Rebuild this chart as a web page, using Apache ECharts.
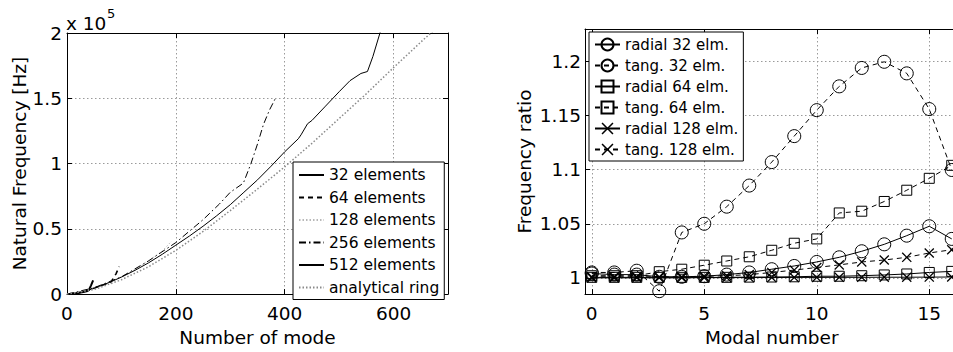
<!DOCTYPE html>
<html><head><meta charset="utf-8">
<script src="https://cdn.jsdelivr.net/npm/echarts@6/dist/echarts.min.js"></script>
<style>
html,body{margin:0;padding:0;overflow:hidden;background:#fff;width:953px;height:352px}
#c{width:970px;height:352px}
</style></head>
<body><div id="c"></div>
<script>
// ---------- Left chart data (mode number, frequency in Hz) ----------
const el32Modes = [0, 10, 20, 30, 36, 40, 44, 48];
const el32Freq  = [0, 200, 800, 1600, 2100, 3000, 6500, 10500];
const el64Modes = [0, 20, 40, 60, 70, 80, 85, 90, 96];
const el64Freq  = [0, 800, 3000, 6200, 7600, 8900, 12000, 15500, 21000];
const el128Modes = [0, 25, 50, 75, 100, 125, 150, 175, 192];
const el128Freq  = [0, 1500, 4800, 8800, 13300, 18800, 25500, 33000, 40500];
const el256Modes = [0, 50, 100, 150, 200, 250, 280, 300, 324, 338, 350, 361, 372, 383];
const el256Freq  = [0, 4900, 13200, 25500, 39500, 57000, 69000, 78000, 85000, 100000, 115000, 130000, 141000, 150000];
const el512Modes = [0, 10, 20, 30, 40, 60, 80, 100, 125, 150, 175, 200, 225, 250, 275, 300, 325, 350, 375, 400, 425, 430, 442, 450, 475, 500, 520, 540, 552, 562, 575, 580];
const el512Freq  = [0, 200, 800, 1600, 3000, 6000, 9300, 13000, 18200, 24000, 30500, 37500, 44500, 52000, 60000, 68500, 78000, 87500, 98000, 109000, 119000, 122000, 130500, 133000, 144000, 155000, 163500, 169000, 170500, 182000, 200000, 207000];
const ringModes = [0, 50, 100, 150, 200, 250, 300, 350, 400, 450, 500, 550, 600, 650, 700];
const ringFreq  = [0, 3500, 11000, 21000, 33500, 48000, 64000, 80500, 97500, 115500, 134500, 153500, 173500, 193000, 212000];
const leftXTicks = [0, 200, 400, 600];
const leftYTicks = [0, 50000, 100000, 150000, 200000];

// ---------- Right chart data (modal number, frequency ratio) ----------
const modalNumbers = [0, 1, 2, 3, 4, 5, 6, 7, 8, 9, 10, 11, 12, 13, 14, 15, 16];
const radial32  = [1.004, 1.003, 1.003, 1.001, 1.001, 1.0015, 1.003, 1.005, 1.008, 1.011, 1.0147, 1.019, 1.0246, 1.031, 1.039, 1.0477, 1.036];
const tang32    = [1.005, 1.005, 1.0066, 0.9877, 1.042, 1.050, 1.0658, 1.0853, 1.107, 1.131, 1.155, 1.177, 1.194, 1.1997, 1.189, 1.156, 1.0997];
const radial64  = [1.0005, 1.0005, 1.0005, 1.0005, 1.0005, 1.0005, 1.0005, 1.0007, 1.0008, 1.001, 1.0015, 1.0015, 1.002, 1.0027, 1.0036, 1.005, 1.006];
const tang64    = [1.002, 1.002, 1.002, 1.0057, 1.008, 1.0117, 1.0156, 1.0195, 1.0255, 1.032, 1.036, 1.060, 1.0616, 1.0706, 1.081, 1.092, 1.104];
const radial128 = [1.0, 1.0, 1.0, 1.0, 1.0, 1.0002, 1.0002, 1.0003, 1.0003, 1.0004, 1.0004, 1.0005, 1.0005, 1.0006, 1.0006, 1.0007, 1.0008];
const tang128   = [1.001, 1.001, 1.001, 1.001, 1.001, 1.0015, 1.002, 1.003, 1.005, 1.0072, 1.0096, 1.012, 1.0147, 1.0165, 1.019, 1.023, 1.026];
const rightXTicks = [0, 5, 10, 15];
const rightYTicks = [1, 1.05, 1.1, 1.15, 1.2];

const FONT = 'DejaVu Sans';
const pairs = (xs, ys) => xs.map((x, i) => [x, ys[i]]);
const gridLine = { show: true, lineStyle: { color: '#9a9a9a', width: 1, type: [1.5, 2.5] } };
const axisLineBlack = { show: true, onZero: false, lineStyle: { color: '#000', width: 1 } };
const tickIn = (vals) => ({ show: true, inside: true, length: 5, lineStyle: { color: '#000' }, customValues: vals });
const labelStyle = { color: '#000', fontFamily: FONT, fontSize: 18.5 };
const nameStyle = { color: '#000', fontFamily: FONT, fontSize: 18.5 };
const xSym = 'path://M0,0.9L0.9,0L5,4.1L9.1,0L10,0.9L5.9,5L10,9.1L9.1,10L5,5.9L0.9,10L0,9.1L4.1,5Z';
const hollow = { color: 'rgba(0,0,0,0)', borderColor: '#000', borderWidth: 1 };

function leftSeries(name, xs, ys, ls) {
  return { name, type: 'line', xAxisIndex: 0, yAxisIndex: 0, symbol: 'none', data: pairs(xs, ys),
    lineStyle: ls, itemStyle: { color: ls.color }, silent: true, clip: true };
}
function rightSeries(name, ys, sym, size, dashed, style) {
  return { name, type: 'line', xAxisIndex: 2, yAxisIndex: 2, symbol: sym, symbolSize: size, showAllSymbol: true,
    data: pairs(modalNumbers, ys), itemStyle: style,
    lineStyle: { color: '#000', width: 1, type: dashed ? [5, 4] : 'solid' }, silent: true, clip: true };
}

const chart = echarts.init(document.getElementById('c'), null, { renderer: 'svg' });
chart.setOption({
  animation: false,
  backgroundColor: '#fff',
  textStyle: { fontFamily: FONT },
  grid: [
    { left: 67, top: 33, width: 381, height: 267 },
    { left: 585, top: 29, width: 373.5, height: 271 }
  ],
  xAxis: [
    { type: 'value', gridIndex: 0, position: 'bottom', min: 0, max: 700,
      axisLine: axisLineBlack, axisTick: tickIn(leftXTicks),
      axisLabel: { ...labelStyle, margin: 10, customValues: leftXTicks }, splitLine: gridLine,
      name: 'Number of mode', nameLocation: 'middle', nameGap: 28, nameTextStyle: nameStyle },
    { type: 'value', gridIndex: 0, position: 'top', min: 0, max: 700,
      axisLine: axisLineBlack, axisTick: tickIn(leftXTicks), axisLabel: { show: false }, splitLine: { show: false } },
    { type: 'value', gridIndex: 1, position: 'bottom', min: -0.3, max: 16.3,
      axisLine: axisLineBlack, axisTick: tickIn(rightXTicks),
      axisLabel: { ...labelStyle, margin: 10, customValues: rightXTicks }, splitLine: gridLine,
      name: 'Modal number', nameLocation: 'middle', nameGap: 26, nameTextStyle: nameStyle },
    { type: 'value', gridIndex: 1, position: 'top', min: -0.3, max: 16.3,
      axisLine: axisLineBlack, axisTick: tickIn(rightXTicks), axisLabel: { show: false }, splitLine: { show: false } }
  ],
  yAxis: [
    { type: 'value', gridIndex: 0, position: 'left', min: 0, max: 200000,
      axisLine: axisLineBlack, axisTick: tickIn(leftYTicks),
      axisLabel: { ...labelStyle, margin: 5, customValues: leftYTicks, formatter: v => String(v / 100000) },
      splitLine: gridLine,
      name: 'Natural Frequency [Hz]', nameLocation: 'middle', nameGap: 38, nameTextStyle: nameStyle },
    { type: 'value', gridIndex: 0, position: 'right', min: 0, max: 200000,
      axisLine: axisLineBlack, axisTick: tickIn(leftYTicks), axisLabel: { show: false }, splitLine: { show: false } },
    { type: 'value', gridIndex: 1, position: 'left', min: 0.985, max: 1.23,
      axisLine: axisLineBlack, axisTick: tickIn(rightYTicks),
      axisLabel: { ...labelStyle, margin: 4, customValues: rightYTicks, formatter: v => String(Math.round(v * 100) / 100) },
      splitLine: gridLine,
      name: 'Frequency ratio', nameLocation: 'middle', nameGap: 51, nameTextStyle: nameStyle }
  ],
  legend: [
    { orient: 'vertical', left: 293, top: 162, itemWidth: 25, itemHeight: 14, itemGap: 6.5,
      padding: [5, 5, 4, 5], backgroundColor: '#fff', borderColor: '#000', borderWidth: 1, borderRadius: 0,
      selectedMode: false, textStyle: { color: '#000', fontFamily: FONT, fontSize: 15.5 },
      itemStyle: { color: 'rgba(0,0,0,0)', borderColor: 'rgba(0,0,0,0)', borderWidth: 0, opacity: 0 },
      data: ['32 elements', '64 elements', '128 elements', '256 elements', '512 elements', 'analytical ring'] },
    { orient: 'vertical', left: 589, top: 32, itemWidth: 25, itemHeight: 15, itemGap: 6,
      padding: [5, 5, 4, 5], backgroundColor: '#fff', borderColor: '#000', borderWidth: 1, borderRadius: 0,
      selectedMode: false, textStyle: { color: '#000', fontFamily: FONT, fontSize: 15 },
      data: ['radial 32 elm.', 'tang. 32 elm.', 'radial 64 elm.', 'tang. 64 elm.', 'radial 128 elm.', 'tang. 128 elm.'] }
  ],
  graphic: [
    { type: 'text', left: 66, top: 14, silent: true,
      style: { text: 'x 10', fill: '#000', font: '18.5px "DejaVu Sans"' } },
    { type: 'text', left: 107, top: 7, silent: true,
      style: { text: '5', fill: '#000', font: '13px "DejaVu Sans"' } }
  ],
  series: [
    leftSeries('32 elements', el32Modes, el32Freq, { color: '#000', width: 2, type: 'solid' }),
    leftSeries('64 elements', el64Modes, el64Freq, { color: '#000', width: 1.6, type: [5, 4] }),
    leftSeries('128 elements', el128Modes, el128Freq, { color: '#b8b8b8', width: 1, type: [1.5, 2] }),
    leftSeries('256 elements', el256Modes, el256Freq, { color: '#000', width: 1, type: [7, 3, 1.5, 3] }),
    leftSeries('512 elements', el512Modes, el512Freq, { color: '#000', width: 1, type: 'solid' }),
    leftSeries('analytical ring', ringModes, ringFreq, { color: '#8a8a8a', width: 1.5, type: [1.5, 2] }),
    rightSeries('radial 32 elm.', radial32, 'circle', 13, false, hollow),
    rightSeries('tang. 32 elm.', tang32, 'circle', 13, true, hollow),
    rightSeries('radial 64 elm.', radial64, 'rect', 10, false, hollow),
    rightSeries('tang. 64 elm.', tang64, 'rect', 10, true, hollow),
    rightSeries('radial 128 elm.', radial128, xSym, 10, false, { color: '#000' }),
    rightSeries('tang. 128 elm.', tang128, xSym, 10, true, { color: '#000' })
  ]
});
</script></body></html>
